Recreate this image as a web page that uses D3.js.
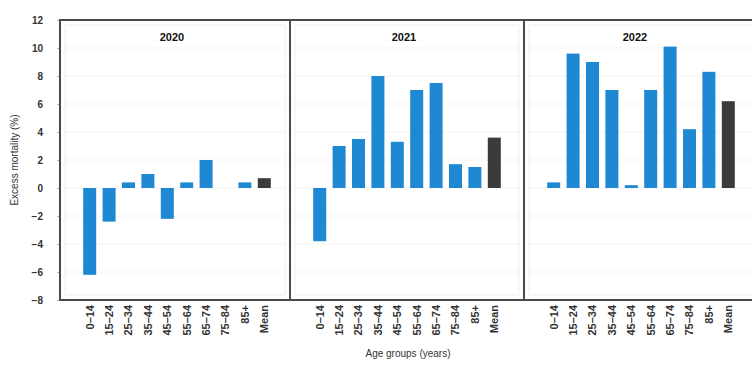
<!DOCTYPE html>
<html>
<head>
<meta charset="utf-8">
<script src="https://cdn.jsdelivr.net/npm/d3@7/dist/d3.min.js"></script>
<style>
  html, body { margin: 0; padding: 0; background: #fff; }
  svg { display: block; font-family: "Liberation Sans", Arial, sans-serif; }
</style>
</head>
<body>
<svg id="chart" width="752" height="366"></svg>
<script>
// Age groups shown under each panel
const ageGroups = ["0–14", "15–24", "25–34", "35–44", "45–54", "55–64", "65–74", "75–84", "85+", "Mean"];
const years = ["2020", "2021", "2022"];

// Excess mortality (%) per age group, one array per year
const excess2020 = [-6.2, -2.4, 0.4, 1.0, -2.2, 0.4, 2.0, null, 0.4, 0.7];
const excess2021 = [-3.8, 3.0, 3.5, 8.0, 3.3, 7.0, 7.5, 1.7, 1.5, 3.6];
const excess2022 = [0.4, 9.6, 9.0, 7.0, 0.2, 7.0, 10.1, 4.2, 8.3, 6.2];
const yTicks = [-8, -6, -4, -2, 0, 2, 4, 6, 8, 10, 12];

const seriesByYear = [excess2020, excess2021, excess2022];

const svg = d3.select("#chart");
const plotTop = 20, plotBottom = 300;
const panelEdges = [60, 290, 524, 758];

const y = d3.scaleLinear().domain([-8, 12]).range([plotBottom, plotTop]);

const blue = "#1f88d2";
const dark = "#3b3b3b";

// y axis
const yAxis = d3.axisLeft(y).tickValues(yTicks).tickSize(3).tickPadding(14);
const ga = svg.append("g").attr("transform", `translate(${panelEdges[0]},0)`).call(yAxis);
ga.select(".domain").remove();
ga.selectAll(".tick line").attr("stroke", "#bbb");
ga.selectAll(".tick text").attr("font-size", 10).attr("font-weight", "bold").attr("fill", "#333");

svg.append("text")
  .attr("transform", `translate(18,${(plotTop + plotBottom) / 2}) rotate(-90)`)
  .attr("text-anchor", "middle")
  .attr("font-size", 10)
  .attr("fill", "#333")
  .text("Excess mortality (%)");

years.forEach((yr, i) => {
  const x0 = panelEdges[i], x1 = panelEdges[i + 1];
  const g = svg.append("g");

  // faint grid
  g.selectAll("line.grid").data(yTicks.filter(t => t > -8 && t < 12)).join("line")
    .attr("x1", x0 + 4).attr("x2", x1 - 4)
    .attr("y1", d => y(d)).attr("y2", d => y(d))
    .attr("stroke", "#f3f3f3").attr("stroke-width", 1);
  g.append("rect")
    .attr("x", x0 + 5).attr("y", plotTop + 5)
    .attr("width", x1 - x0 - 10).attr("height", plotBottom - plotTop - 10)
    .attr("fill", "none").attr("stroke", "#efefef");

  const x = d3.scaleBand().domain(ageGroups)
    .range([x0 + 20, x0 + 214])
    .paddingInner(0.33).paddingOuter(0.165);

  const data = ageGroups.map((a, k) => ({ a, v: seriesByYear[i][k] })).filter(d => d.v !== null);

  g.selectAll("rect.bar").data(data).join("rect")
    .attr("class", "bar")
    .attr("x", d => x(d.a))
    .attr("width", x.bandwidth())
    .attr("y", d => y(Math.max(0, d.v)))
    .attr("height", d => Math.abs(y(d.v) - y(0)))
    .attr("fill", d => d.a === "Mean" ? dark : blue);

  // panel title
  g.append("text")
    .attr("x", (x0 + Math.min(x1, 752)) / 2 - 3)
    .attr("y", 41)
    .attr("text-anchor", "middle")
    .attr("font-size", 11)
    .attr("font-weight", "bold")
    .attr("fill", "#111")
    .text(yr);

  // category labels
  const xAxis = d3.axisBottom(x).tickSize(0).tickPadding(0);
  const gx = g.append("g").attr("transform", `translate(0,${plotBottom})`).call(xAxis);
  gx.select(".domain").remove();
  gx.selectAll(".tick text")
    .attr("transform", "rotate(-90)")
    .attr("text-anchor", "end")
    .attr("dy", "0.35em")
    .attr("x", -5)
    .attr("y", 0)
    .attr("font-size", 11)
    .attr("font-weight", "bold")
    .attr("fill", "#333");

  // panel frame
  g.append("rect")
    .attr("x", x0).attr("y", plotTop)
    .attr("width", x1 - x0).attr("height", plotBottom - plotTop)
    .attr("fill", "none").attr("stroke", "#4a4a4a").attr("stroke-width", 2);
});

svg.append("text")
  .attr("x", 408).attr("y", 357)
  .attr("text-anchor", "middle")
  .attr("font-size", 10)
  .attr("fill", "#333")
  .text("Age groups (years)");
</script>
</body>
</html>
